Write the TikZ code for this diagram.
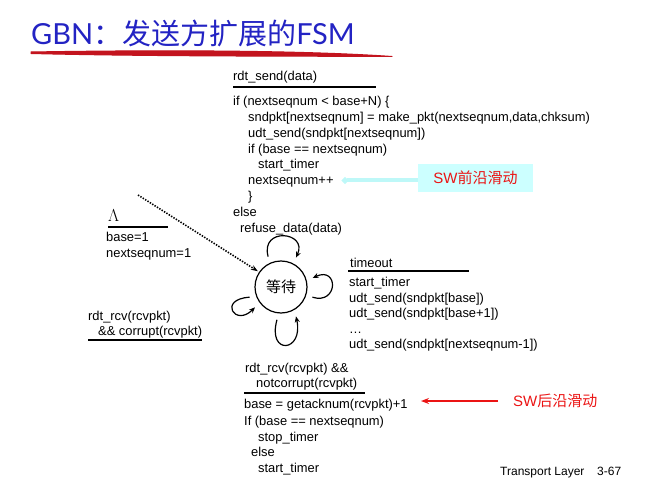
\documentclass[tikz,border=0pt]{standalone}
\usepackage{fontspec}
\setmainfont{Liberation Sans}
\newfontfamily\cjk{Noto Sans CJK SC}
\newfontfamily\titlefont{Lato}
\usetikzlibrary{arrows.meta}
\definecolor{titleblue}{RGB}{35,35,195}
\definecolor{brushred}{RGB}{195,20,30}
\definecolor{swred}{RGB}{235,20,20}
\definecolor{swcyan}{RGB}{204,255,255}
\definecolor{swline}{RGB}{190,248,248}
\tikzset{
    code/.style={anchor=base west, inner sep=0pt, font=\fontsize{12.9}{15.9}\selectfont},
    rule/.style={line width=2.4pt},
    selfloop/.style={line width=1.2pt, -{Stealth[length=6pt,width=5pt]}},
    swtext/.style={text=swred, inner sep=0pt, font=\fontsize{15}{15}\selectfont},
}
\begin{document}
\begin{tikzpicture}[x=1pt, y=-1pt]
    \useasboundingbox (0,0) rectangle (656,481);

    % Title
    \node[anchor=base west, inner sep=0pt, text=titleblue, font=\fontsize{29}{29}\selectfont] (title) at (31,45)
        {\titlefont GBN\cjk ：发送方扩展的\titlefont FSM};
    \filldraw[brushred, line width=1pt, line join=round]
        (31,52) .. controls (150,50) and (300,50) .. (392,56.5)
        .. controls (300,56) and (150,56.5) .. (31,53.5) -- cycle;

    % State
    \node[circle, draw, line width=1.2pt, minimum size=52pt, outer sep=7pt,
          font=\cjk\fontsize{15}{15}\selectfont] (wait) at (281,287) {等待};

    % Self loops
    \draw[selfloop] (wait.113) .. controls +(-8,-30) and +(12,-26) .. (wait.63);
    \draw[selfloop] (wait.-18) .. controls +(26,8) and +(26,-12) .. (wait.16);
    \draw[selfloop] (wait.-97) .. controls +(-10,36) and +(8,36) .. (wait.-63);
    \draw[selfloop] (wait.198) .. controls +(-32,2) and +(-20,20) .. (wait.218);

    % Initial arrow
    \coordinate (init) at (138,195);
    \draw[line width=1.6pt, dash pattern=on 1.4pt off 1.4pt, -{Stealth[length=7pt,width=5pt]},
          shorten >=-5pt] (init) -- (wait.146);

    % rdt_send
    \node[code] (sendev) at (233,81) {rdt\_send(data)};
    \draw[rule] (233,87) -- (376,87);
    \foreach \x/\y/\t [count=\i] in {
        233/105.5/{if (nextseqnum < base+N) \{},
        248/121.4/{sndpkt[nextseqnum] = make\_pkt(nextseqnum,data,chksum)},
        248/137.3/{udt\_send(sndpkt[nextseqnum])},
        248/153.1/{if (base == nextseqnum)},
        258/169/{start\_timer},
        248/184.9/{nextseqnum++},
        248/200.8/{\}},
        233/216.6/{else},
        240/232.5/{refuse\_data(data)}}
        \node[code] (send\i) at (\x,\y) {\t};

    % SW front
    \node[swtext, fill=swcyan, minimum width=115pt, minimum height=28pt] (front) at (475.5,178) {SW\cjk 前沿滑动};
    \coordinate (fronttail) at (342,180.5);
    \draw[swline, line width=4pt, {Circle[length=6pt]}-] (fronttail) -- (fronttail -| front.west);

    % Init
    \node[code, font=\fontsize{16}{16}\selectfont] (lam) at (108,221.5) {$\Lambda$};
    \draw[rule] (108,227) -- (168,227);
    \node[code] (init1) at (106,241.5) {base=1};
    \node[code] (init2) at (106,257.5) {nextseqnum=1};

    % timeout
    \node[code] (toev) at (350,267) {timeout};
    \draw[rule] (348,271) -- (469,271);
    \foreach \y/\t [count=\i] in {
        286.5/{start\_timer},
        302/{udt\_send(sndpkt[base])},
        317.5/{udt\_send(sndpkt[base+1])},
        333/{\ldots},
        348.5/{udt\_send(sndpkt[nextseqnum-1])}}
        \node[code] (to\i) at (349,\y) {\t};

    % corrupt
    \node[code] (cor1) at (88,320.5) {rdt\_rcv(rcvpkt)};
    \node[code] (cor2) at (98,335.5) {\&\& corrupt(rcvpkt)};
    \draw[rule] (88,340) -- (202,340);

    % notcorrupt
    \node[code] (ack1) at (245,372) {rdt\_rcv(rcvpkt) \&\&};
    \node[code] (ack2) at (256,387.5) {notcorrupt(rcvpkt)};
    \draw[rule] (244,393) -- (365,393);
    \foreach \x/\y/\t [count=\i] in {
        244/408.5/{base = getacknum(rcvpkt)+1},
        244/425/{If (base == nextseqnum)},
        258/441/{stop\_timer},
        251/456.5/{else},
        258/472.5/{start\_timer}}
        \node[code] (act\i) at (\x,\y) {\t};

    % SW back
    \node[swtext, anchor=west] (back) at (513,401) {SW\cjk 后沿滑动};
    \coordinate (backtip) at (421,401);
    \draw[swred, line width=2pt, -{Stealth[length=8pt,width=6pt]}] ([xshift=-15pt]back.west) -- (backtip);

    % Footer
    \node[anchor=base west, inner sep=0pt, font=\fontsize{12}{12}\selectfont] (footer) at (500,475) {Transport Layer};
    \node[anchor=base west, inner sep=0pt, font=\fontsize{12}{12}\selectfont] (page) at (597,475) {3-67};
\end{tikzpicture}
\end{document}
